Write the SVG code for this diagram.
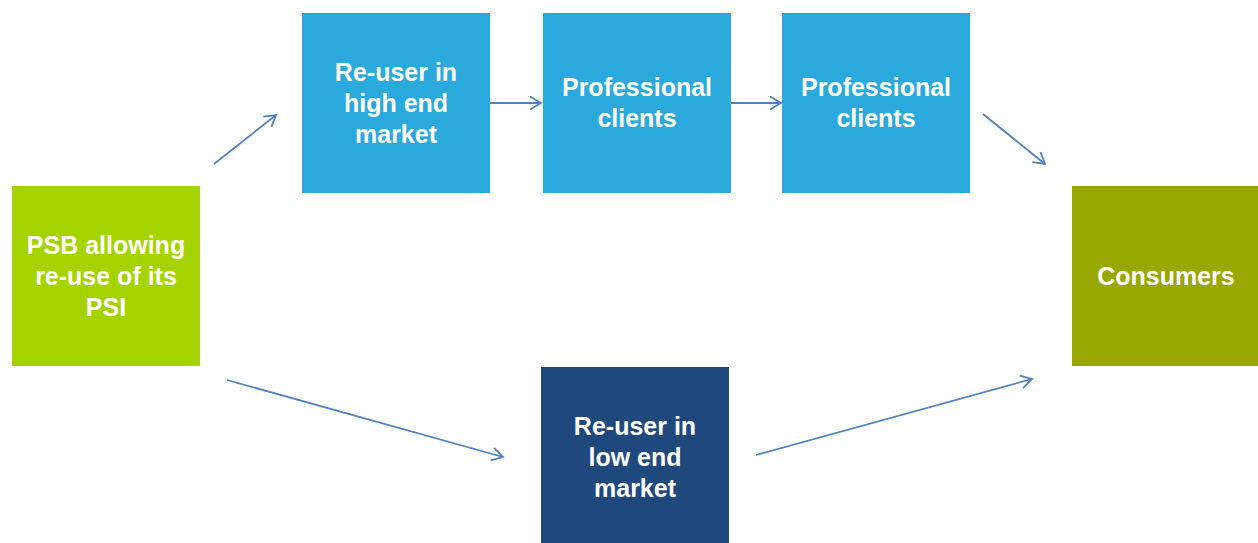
<svg xmlns="http://www.w3.org/2000/svg" width="1258" height="543" viewBox="0 0 1258 543">
<defs>
<marker id="ah" markerWidth="16" markerHeight="16" refX="13" refY="8" orient="auto" markerUnits="userSpaceOnUse">
<path d="M2,1.5 L13,8 L2,14.5" fill="none" stroke="#4f81bd" stroke-width="1.8"/>
</marker>
</defs>
<style>
.t{font-family:"Liberation Sans",Arial,sans-serif;font-weight:bold;font-size:25px;fill:#ffffff;text-anchor:middle}
.c{stroke:#4f81bd;stroke-width:1.8;fill:none;marker-end:url(#ah)}
</style>
<rect width="1258" height="543" fill="#ffffff"/>
<g id="psb">
<rect x="12" y="186" width="188" height="180" fill="#a5d300"/>
<text class="t" x="106" y="254">PSB allowing</text>
<text class="t" x="106" y="285">re-use of its</text>
<text class="t" x="106" y="316">PSI</text>
</g>
<g id="reuser-high">
<rect x="302" y="13" width="188" height="180" fill="#29a9dc"/>
<text class="t" x="396" y="81">Re-user in</text>
<text class="t" x="396" y="112">high end</text>
<text class="t" x="396" y="143">market</text>
</g>
<g id="prof1">
<rect x="543" y="13" width="188" height="180" fill="#29a9dc"/>
<text class="t" x="637" y="96">Professional</text>
<text class="t" x="637" y="127">clients</text>
</g>
<g id="prof2">
<rect x="782" y="13" width="188" height="180" fill="#29a9dc"/>
<text class="t" x="876" y="96">Professional</text>
<text class="t" x="876" y="127">clients</text>
</g>
<g id="consumers">
<rect x="1072" y="186" width="188" height="180" fill="#98a800"/>
<text class="t" x="1166" y="285">Consumers</text>
</g>
<g id="reuser-low">
<rect x="541" y="367" width="188" height="180" fill="#1f497d"/>
<text class="t" x="635" y="435">Re-user in</text>
<text class="t" x="635" y="466">low end</text>
<text class="t" x="635" y="497">market</text>
</g>
<g id="connectors">
<line class="c" x1="214" y1="164" x2="276" y2="115"/>
<line class="c" x1="490" y1="103" x2="541" y2="103"/>
<line class="c" x1="731" y1="103" x2="781" y2="103"/>
<line class="c" x1="983" y1="114" x2="1045" y2="164"/>
<line class="c" x1="227" y1="380" x2="503" y2="457"/>
<line class="c" x1="756" y1="455" x2="1032" y2="379"/>
</g>
</svg>
